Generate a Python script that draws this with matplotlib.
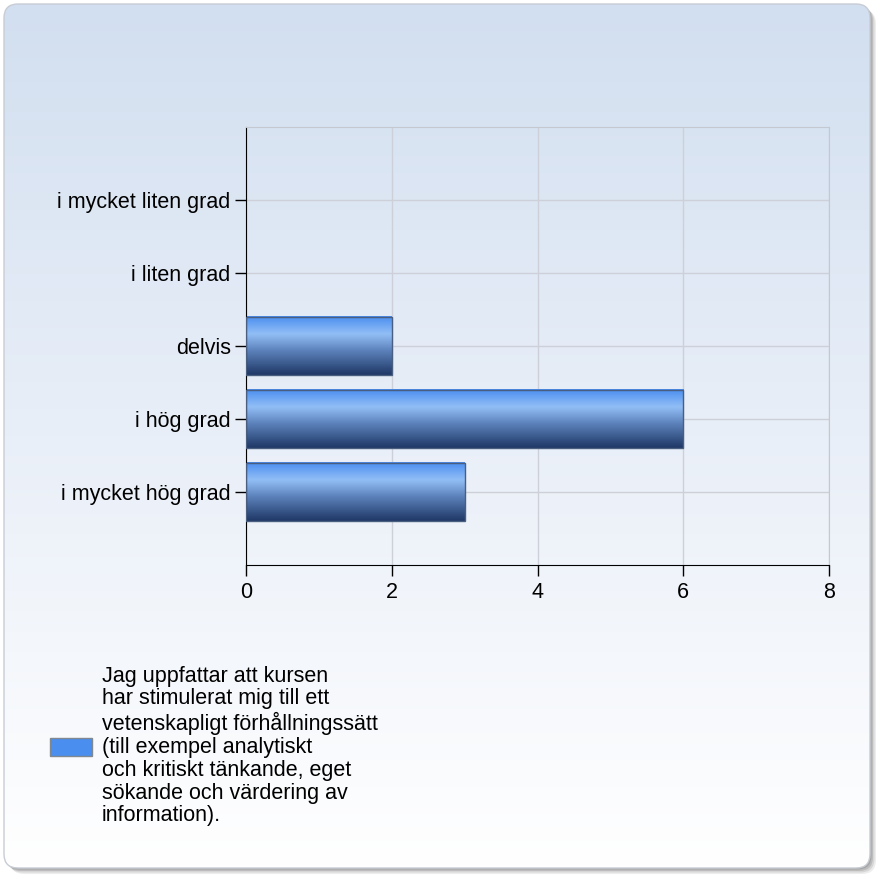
import numpy as np
import matplotlib
matplotlib.use('Agg')
import matplotlib.pyplot as plt
from matplotlib.patches import FancyBboxPatch, Rectangle
from matplotlib.colors import LinearSegmentedColormap

plt.rcParams['font.family'] = ['Liberation Sans', 'DejaVu Sans']

# dane
kategorie = ['i mycket liten grad', 'i liten grad', 'delvis', 'i hög grad', 'i mycket hög grad']
wartosci = [0, 0, 2, 6, 3]
xticki = [0, 2, 4, 6, 8]
legenda = ('Jag uppfattar att kursen\nhar stimulerat mig till ett\nvetenskapligt förhållningssätt\n'
           '(till exempel analytiskt\noch kritiskt tänkande, eget\nsökande och värdering av\ninformation).')

fig = plt.figure(figsize=(8.82, 8.82), dpi=100)
fig.patch.set_facecolor('white')

# tlo: cien + zaokraglony panel z gradientem
bg = fig.add_axes([0, 0, 1, 1])
bg.set_xlim(0, 882)
bg.set_ylim(882, 0)
bg.axis('off')
for off, a in [(6, 0.12), (4.5, 0.18), (3, 0.25), (1.5, 0.3)]:
    bg.add_patch(FancyBboxPatch((4 + off, 4 + off), 866, 864,
                                boxstyle='round,pad=0,rounding_size=14',
                                fc='#707070', ec='none', alpha=a, zorder=-2))
panel = FancyBboxPatch((4, 4), 866, 864, boxstyle='round,pad=0,rounding_size=14',
                       fc='none', ec='#c8ccd4', lw=1.0, zorder=1)
bg.add_patch(panel)
grad_bg = LinearSegmentedColormap.from_list('bg', ['#d2dff0', '#e9eff8', '#ffffff'])
im = bg.imshow(np.linspace(0, 1, 256).reshape(-1, 1), cmap=grad_bg, aspect='auto',
               extent=(4, 870, 868, 4), zorder=0)
im.set_clip_path(panel)

# wykres
ax = fig.add_axes([246 / 882, 1 - 565 / 882, (829 - 246) / 882, (565 - 127) / 882])
ax.patch.set_alpha(0)
pozycje = np.arange(len(kategorie))
wys = 0.8
ax.barh(pozycje, wartosci, height=wys, color='none', edgecolor='#4a5e80',
        lw=[1.0 if w > 0 else 0 for w in wartosci], zorder=3)

grad_bar = LinearSegmentedColormap.from_list(
    'bar', [(0, '#4a8ef0'), (0.3, '#92bef6'), (0.6, '#5a7fb8'), (1, '#1f3866')])
for p, w in zip(pozycje, wartosci):
    if w > 0:
        ax.imshow(np.linspace(0, 1, 128).reshape(-1, 1), cmap=grad_bar, aspect='auto',
                  extent=(0, w, p + wys / 2, p - wys / 2), zorder=2, interpolation='bilinear')

ax.set_xlim(0, 8)
ax.set_ylim(len(kategorie), -1)
ax.set_xticks(xticki)
ax.set_yticks(pozycje)
ax.set_yticklabels(kategorie)
ax.tick_params(axis='both', labelsize=15.5, length=8, width=1, color='black', pad=3)
ax.tick_params(axis='x', pad=4)
ax.grid(True, color='#cdd0d8', lw=1, zorder=0)
ax.set_axisbelow(True)
for s in ['top', 'right']:
    ax.spines[s].set_color('#c4c8d0')
for s in ['left', 'bottom']:
    ax.spines[s].set_color('black')

# legenda
bg.add_patch(Rectangle((50, 738), 42, 18, fc='#4a8ef0', ec='#808890', lw=1, zorder=2))
bg.text(102, 746, legenda, fontsize=15.5, va='center', ha='left', linespacing=1.12, zorder=2)

fig.savefig('out.png', dpi=100)
